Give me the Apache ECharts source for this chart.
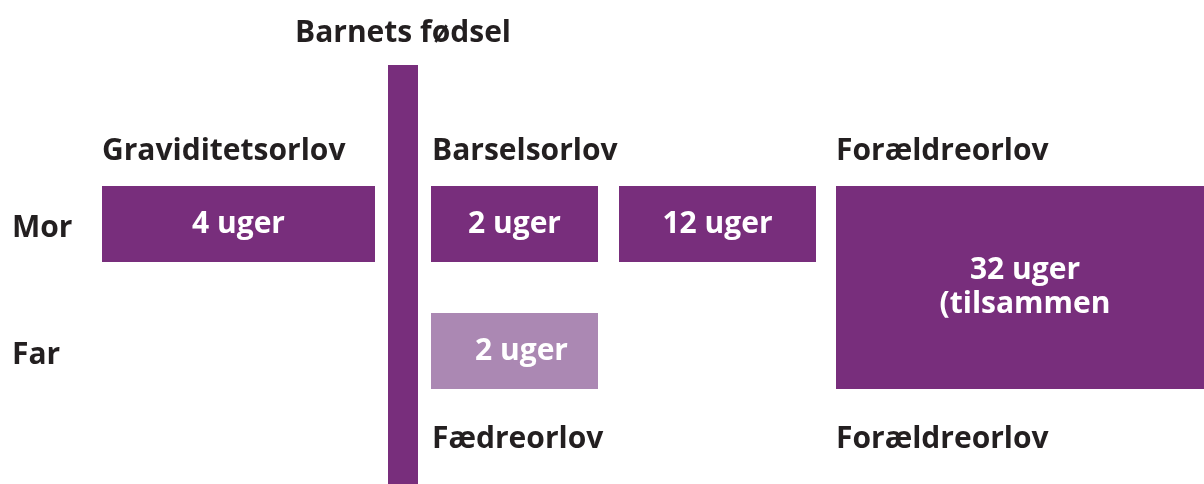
<!DOCTYPE html>
<html>
<head>
<meta charset="utf-8">
<script src="https://cdn.jsdelivr.net/npm/echarts@6/dist/echarts.min.js"></script>
<style>
html,body{margin:0;padding:0;background:#fff;}
#main{width:1204px;height:484px;}
</style>
</head>
<body>
<div id="main"></div>
<script>
// Rows of the diagram
const rows = ['Mor', 'Far'];

// Leave blocks on a schematic timeline axis (units 0–1204)
const segLabels  = ['4 uger', '2 uger', '12 uger', '32 uger\n(tilsammen', '2 uger'];
const segStart   = [102, 431, 619, 836, 431];
const segEnd     = [375, 598, 816, 1214, 598];
const segRowFrom = [0, 0, 0, 0, 1];
const segRowTo   = [0, 0, 0, 1, 1];
const segShade   = ['dark', 'dark', 'dark', 'dark', 'light'];

// Headings attached to the blocks
const headLabels = ['Graviditetsorlov', 'Barselsorlov', 'Forældreorlov', 'Fædreorlov', 'Forældreorlov'];
const headStart  = [102, 432, 836, 432, 836];
const headRow    = [0, 0, 0, 1, 1];
const headSide   = ['above', 'above', 'above', 'below', 'below'];

// Birth marker
const birthLabel = 'Barnets fødsel';
const birthStart = [388];
const birthEnd   = [418];

const DARK = '#782E7C';
const LIGHT = '#AB88B3';
const INK = '#231F20';
const FONT = '"Open Sans", Lato, sans-serif';
const FS = 30;

const chart = echarts.init(document.getElementById('main'), null, {renderer: 'canvas'});

const segData = segLabels.map((l, i) => [segStart[i], segEnd[i], segRowFrom[i], segRowTo[i], i]);
const headData = headLabels.map((l, i) => [headStart[i], headRow[i], i]);
const birthData = birthStart.map((s, i) => [s, birthEnd[i], i]);

const BLOCK_RATIO = 0.598;

chart.setOption({
  animation: false,
  backgroundColor: '#fff',
  grid: {left: 0, right: 0, top: 160.5, bottom: 69.5, containLabel: false},
  xAxis: {type: 'value', min: 0, max: 1204, show: false},
  yAxis: {
    type: 'category', data: rows, inverse: true,
    axisLine: {show: false}, axisTick: {show: false}, splitLine: {show: false},
    axisLabel: {inside: true, margin: 12, formatter: function (v) { return '{r|' + v + '}'; },
      rich: {r: {color: INK, fontSize: FS, fontWeight: 'bold', fontFamily: FONT, lineHeight: 36, padding: [9, 0, 0, 0]}}}
  },
  series: [
    {
      type: 'custom', name: 'birth', data: birthData, z: 3,
      renderItem: function (params, api) {
        const x0 = api.coord([api.value(0), 0])[0];
        const x1 = api.coord([api.value(1), 0])[0];
        const cy = api.coord([0, 0])[1];
        const top = cy - 159;
        return {
          type: 'group',
          children: [
            {type: 'rect', shape: {x: x0, y: top, width: x1 - x0, height: api.getHeight() - top}, style: {fill: DARK}},
            {type: 'text', style: {text: birthLabel, x: (x0 + x1) / 2, y: top - 32, align: 'center', verticalAlign: 'middle',
              fill: INK, font: 'bold ' + FS + 'px ' + FONT}}
          ]
        };
      }
    },
    {
      type: 'custom', name: 'blocks', data: segData, z: 2,
      renderItem: function (params, api) {
        const i = api.value(4);
        const h = api.size([0, 1])[1] * BLOCK_RATIO;
        const p0 = api.coord([api.value(0), api.value(2)]);
        const p1 = api.coord([api.value(1), api.value(3)]);
        const y0 = p0[1] - h / 2, y1 = p1[1] + h / 2;
        return {
          type: 'rect',
          shape: {x: p0[0], y: y0, width: p1[0] - p0[0], height: y1 - y0},
          style: {fill: segShade[i] === 'light' ? LIGHT : DARK},
          textContent: {style: {text: segLabels[i], fill: '#fff', font: 'bold ' + FS + 'px ' + FONT, lineHeight: 34, align: 'center'}},
          textConfig: {position: 'inside', offset: segShade[i] === 'light' ? [7, 0] : [0, 0]}
        };
      }
    },
    {
      type: 'custom', name: 'headings', data: headData, z: 2,
      renderItem: function (params, api) {
        const i = api.value(2);
        const h = api.size([0, 1])[1] * BLOCK_RATIO;
        const p = api.coord([api.value(0), api.value(1)]);
        const y = headSide[i] === 'above' ? p[1] - h / 2 - 35 : p[1] + h / 2 + 50;
        return {
          type: 'text',
          style: {text: headLabels[i], x: p[0], y: y, align: 'left', verticalAlign: 'middle', fill: INK, font: 'bold ' + FS + 'px ' + FONT}
        };
      }
    }
  ]
});
</script>
</body>
</html>
